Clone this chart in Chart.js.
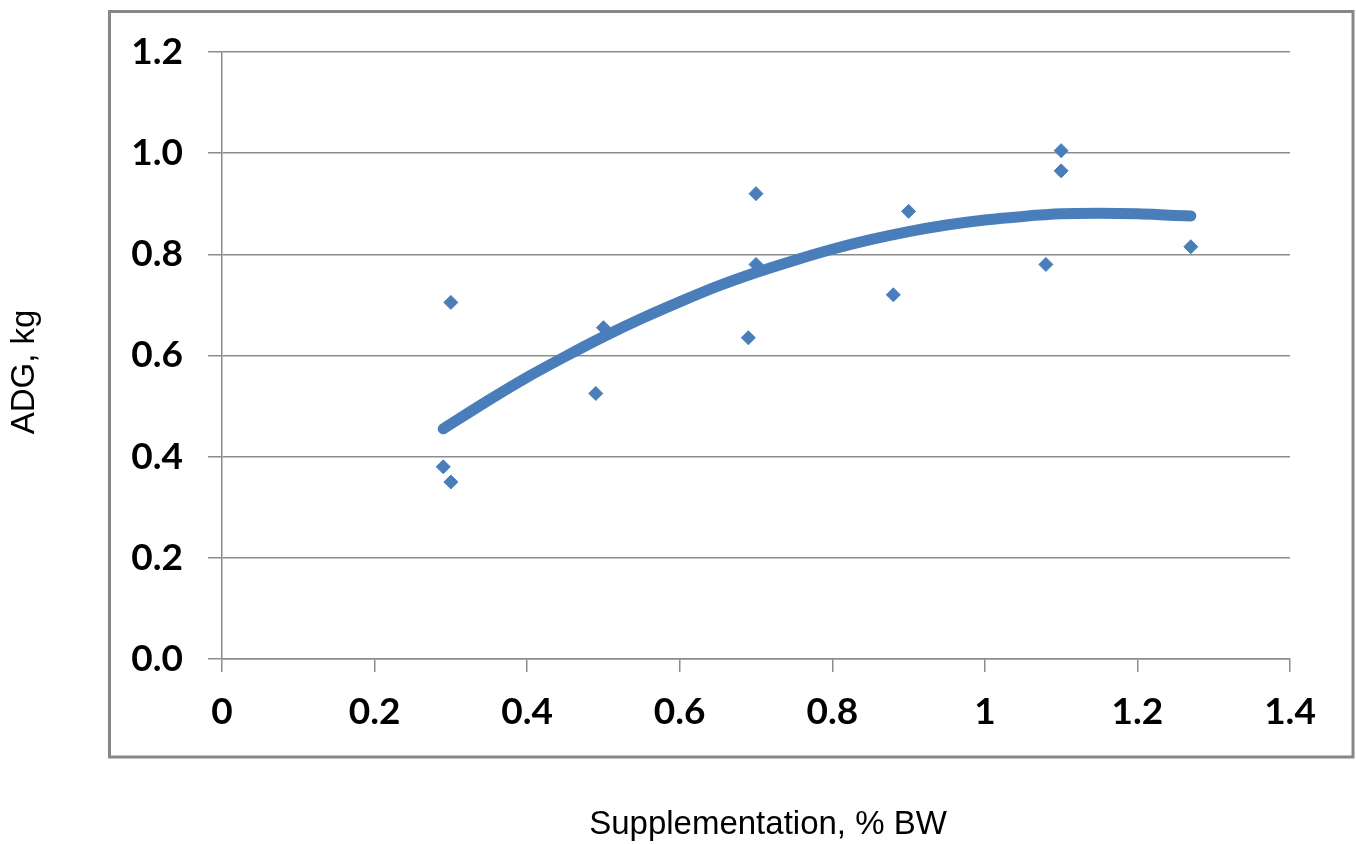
<!DOCTYPE html>
<html><head><meta charset="utf-8">
<script src="https://cdn.jsdelivr.net/npm/chart.js@4.4.0/dist/chart.umd.min.js"></script>
<style>html,body{margin:0;padding:0;background:#fff}#wrap{width:1356px;height:844px}</style>
</head><body><div id="wrap"><canvas id="c" width="1356" height="844"></canvas></div>
<script>
// observed points
const supplementation = [0.29, 0.30, 0.30, 0.49, 0.50, 0.69, 0.70, 0.70, 0.88, 0.90, 1.08, 1.10, 1.10, 1.27];
const adg = [0.38, 0.35, 0.705, 0.525, 0.655, 0.635, 0.92, 0.78, 0.72, 0.885, 0.78, 1.005, 0.965, 0.815];
// trendline
const trendX = [0.29, 0.35, 0.40, 0.45, 0.50, 0.55, 0.60, 0.65, 0.70, 0.75, 0.80, 0.85, 0.90, 0.95, 1.00, 1.05, 1.10, 1.15, 1.20, 1.25, 1.27];
const trendY = [0.455, 0.512, 0.557, 0.598, 0.637, 0.673, 0.706, 0.737, 0.764, 0.788, 0.810, 0.829, 0.845, 0.858, 0.868, 0.875, 0.880, 0.881, 0.880, 0.877, 0.876];
const xTicks = [0, 0.2, 0.4, 0.6, 0.8, 1, 1.2, 1.4];
const xTickLabels = ['0', '0.2', '0.4', '0.6', '0.8', '1', '1.2', '1.4'];
const yTicks = [0, 0.2, 0.4, 0.6, 0.8, 1.0, 1.2];
const yTickLabels = ['0.0', '0.2', '0.4', '0.6', '0.8', '1.0', '1.2'];
const xTitle = 'Supplementation, % BW';
const yTitle = 'ADG, kg';

const BLUE = '#4a7ebb';
const GRID = '#8c8c8c';

const frame = {
  id: 'frame',
  afterDraw(chart) {
    const ctx = chart.ctx;
    ctx.save();
    ctx.strokeStyle = '#878787';
    ctx.lineWidth = 3;
    ctx.strokeRect(109.5, 11.5, 1353 - 109.5, 757 - 11.5);
    ctx.fillStyle = '#000';
    ctx.font = '33px "Liberation Sans", Arial, sans-serif';
    ctx.textAlign = 'center';
    ctx.textBaseline = 'middle';
    ctx.fillText(xTitle, 768, 825);
    ctx.translate(25, 372);
    ctx.rotate(-Math.PI / 2);
    ctx.fillText(yTitle, 0, 0);
    ctx.restore();
  }
};

new Chart(document.getElementById('c'), {
  type: 'scatter',
  data: {
    datasets: [
      {
        label: 'Trend',
        data: trendX.map((x, i) => ({x, y: trendY[i]})),
        showLine: true,
        borderColor: BLUE,
        borderWidth: 11,
        borderCapStyle: 'round',
        borderJoinStyle: 'round',
        cubicInterpolationMode: 'monotone',
        pointRadius: 0,
        order: 2
      },
      {
        label: 'ADG',
        data: supplementation.map((x, i) => ({x, y: adg[i]})),
        pointStyle: 'rectRot',
        pointRadius: 7,
        pointBorderWidth: 1,
        backgroundColor: BLUE,
        borderColor: BLUE,
        order: 1
      }
    ]
  },
  options: {
    responsive: false,
    animation: false,
    layout: {padding: {top: 52, right: 66, left: 0, bottom: 0}},
    plugins: {legend: {display: false}, tooltip: {enabled: false}},
    scales: {
      x: {
        type: 'linear', min: 0, max: 1.4,
        afterBuildTicks: s => { s.ticks = xTicks.map(v => ({value: v})); },
        afterFit: s => { s.height = 185; },
        ticks: {
          callback: (v) => xTickLabels[xTicks.indexOf(v)] ?? '',
          color: '#000', padding: 18, maxRotation: 0,
          font: {family: 'Lato', weight: 'bold', size: 37}
        },
        grid: {drawOnChartArea: false, drawTicks: true, tickLength: 13, color: GRID, lineWidth: 1.5},
        border: {display: true, color: GRID, width: 1.5}
      },
      y: {
        type: 'linear', min: 0, max: 1.2,
        afterBuildTicks: s => { s.ticks = yTicks.map(v => ({value: v})); },
        afterFit: s => { s.width = 222; },
        ticks: {
          callback: (v) => { const i = yTicks.findIndex(t => Math.abs(t - v) < 1e-9); return i >= 0 ? yTickLabels[i] : ''; },
          color: '#000', padding: 25,
          font: {family: 'Lato', weight: 'bold', size: 37}
        },
        grid: {drawTicks: true, tickLength: 14, color: GRID, lineWidth: 1.5},
        border: {display: true, color: GRID, width: 1.5}
      }
    }
  },
  plugins: [frame]
});
</script>
</body></html>
